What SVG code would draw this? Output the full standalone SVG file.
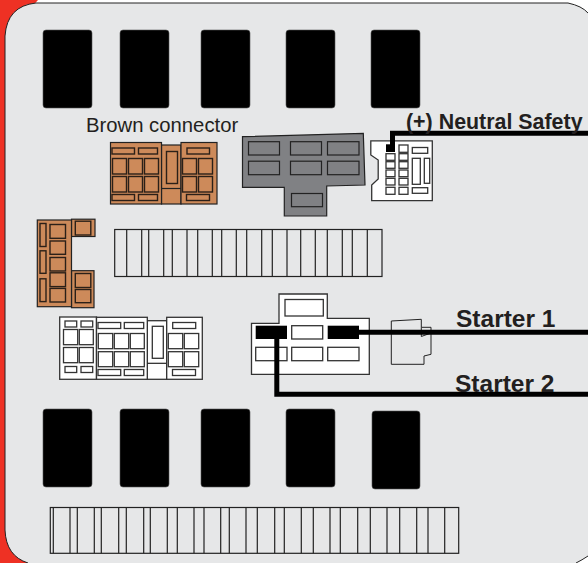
<svg xmlns="http://www.w3.org/2000/svg" width="588" height="563" viewBox="0 0 588 563">
<style>
.k{fill:#000;stroke:#555;stroke-width:.6}
.c{fill:none;stroke:#222;stroke-width:1.2}
.b{fill:#cd8a5a;stroke:#222;stroke-width:1.2}
.bi{fill:#cd8a5a;stroke:#2b2018;stroke-width:1.4}
.w{fill:#fff;stroke:#333;stroke-width:1.3}
.g{fill:#808184;stroke:#222;stroke-width:1.2}
.s{fill:none;stroke:#000;stroke-width:5}
.t{font-family:"Liberation Sans",Arial,sans-serif;fill:#231f20}
.l{font-size:24.500px;font-weight:bold}
</style>
<rect width="588" height="563" fill="#fff"/>
<path d="M0 0H38L5 36V530L28 563H0Z" fill="#ee3124"/>
<path id="panel" d="M568 3H36Q7 6 5 36V530Q6 556 28 563H576Q582 560 588 556V13Q582 6 568 3Z" fill="#e6e7e8"/>
<path d="M588 13Q582 6 568 3H36Q7 6 5 36V530Q6 556 28 563M576 563Q582 560 588 556" fill="none" stroke="#222" stroke-width="1"/>
<g id="blocks-top">
<rect class="k" x="43" y="30" width="49" height="78" rx="3"/>
<rect class="k" x="120" y="30" width="49" height="78" rx="3"/>
<rect class="k" x="201" y="30" width="49" height="78" rx="3"/>
<rect class="k" x="286" y="30" width="49" height="78" rx="3"/>
<rect class="k" x="371" y="30" width="49" height="78" rx="3"/>
</g>
<g id="blocks-bottom">
<rect class="k" x="43" y="409" width="49" height="78" rx="3"/>
<rect class="k" x="120" y="409" width="49" height="78" rx="3"/>
<rect class="k" x="201" y="409" width="49" height="78" rx="3"/>
<rect class="k" x="286" y="409" width="49" height="78" rx="3"/>
<rect class="k" x="372" y="411" width="48" height="78" rx="3"/>
</g>
<g id="brown-connector">
<rect class="b" x="161.500" y="145" width="19.500" height="59"/>
<rect class="b" x="110.500" y="142.500" width="51" height="61.500"/>
<rect class="b" x="181" y="142.500" width="36" height="61.500"/>
<path class="c" d="M161.500 188.500H181"/>
<rect class="bi" x="112" y="148" width="22.500" height="6"/><rect class="bi" x="138.500" y="148" width="19" height="6"/><rect class="bi" x="187" y="148" width="22.500" height="6"/>
<rect class="bi" x="112.500" y="158.500" width="14" height="15.500"/><rect class="bi" x="128.500" y="158.500" width="14" height="15.500"/><rect class="bi" x="144.500" y="158.500" width="14" height="15.500"/>
<rect class="bi" x="112.500" y="176.500" width="14" height="15.500"/><rect class="bi" x="128.500" y="176.500" width="14" height="15.500"/><rect class="bi" x="144.500" y="176.500" width="14" height="15.500"/>
<rect class="bi" x="112" y="194.500" width="22.500" height="6"/><rect class="bi" x="138.500" y="194.500" width="19" height="6"/><rect class="bi" x="186.500" y="194.500" width="23" height="6"/>
<rect class="bi" x="166.500" y="151.500" width="11" height="32"/>
<rect class="bi" x="182.500" y="158.500" width="14" height="15.500"/><rect class="bi" x="198.500" y="158.500" width="14" height="15.500"/>
<rect class="bi" x="182.500" y="176.500" width="14" height="15.500"/><rect class="bi" x="198.500" y="176.500" width="14" height="15.500"/>
</g>
<g id="gray-connector">
<path class="g" d="M242.500 136.700L363.300 133.300L365 185L326.700 186V216H284.300V187.300H242.500Z"/>
<rect class="g" x="248.500" y="141.700" width="31" height="13.300"/><rect class="g" x="290.500" y="141.700" width="31" height="13.300"/><rect class="g" x="327.500" y="141.700" width="31.500" height="13.300"/>
<rect class="g" x="248.500" y="161.200" width="31" height="13.500"/><rect class="g" x="290.500" y="161.200" width="31" height="13.500"/><rect class="g" x="327.500" y="161.200" width="31.500" height="13.500"/>
<rect class="g" x="291.500" y="193.500" width="31" height="13.200"/>
</g>
<g id="neutral-connector">
<path class="w" d="M370.800 140.800H432.300V200.700H371.700V185L378.200 179V160L370.800 155Z"/>
<rect class="w" x="399" y="145" width="9" height="7.300"/>
<rect class="w" x="386" y="153.700" width="9" height="6.600"/><rect class="w" x="399" y="153.700" width="9" height="6.600"/>
<rect class="w" x="386" y="161.700" width="9" height="6.600"/><rect class="w" x="399" y="161.700" width="9" height="6.600"/>
<rect class="w" x="386" y="170" width="9" height="6.700"/><rect class="w" x="399" y="170" width="9" height="6.700"/>
<rect class="w" x="386" y="178.300" width="9" height="6.700"/><rect class="w" x="399" y="178.300" width="9" height="6.700"/>
<rect class="w" x="386" y="187.300" width="9" height="7"/><rect class="w" x="399" y="187.300" width="9" height="7"/>
<rect class="w" x="412.300" y="147.500" width="15.400" height="5.800"/><rect class="w" x="412.300" y="158.300" width="8" height="26"/><rect class="w" x="424.300" y="158.300" width="5.400" height="25"/><rect class="w" x="412.300" y="187.700" width="15.400" height="5.600"/>
<rect x="386" y="144.300" width="9" height="7.700"/>
</g>
<g id="brown-left">
<rect class="b" x="71.500" y="219.200" width="23.500" height="17.300"/>
<rect class="b" x="71.500" y="270.700" width="22.500" height="37"/>
<rect class="b" x="37.300" y="220" width="34.200" height="86.700"/>
<rect class="bi" x="40" y="223.500" width="6" height="23"/><rect class="bi" x="40" y="250.800" width="6" height="22.500"/><rect class="bi" x="40" y="278.800" width="6" height="22.800"/>
<rect class="bi" x="50" y="224.500" width="15.500" height="13.800"/><rect class="bi" x="50" y="241" width="15.500" height="13.300"/><rect class="bi" x="50" y="257.500" width="15.500" height="13.500"/><rect class="bi" x="50" y="272.800" width="15.500" height="13.800"/><rect class="bi" x="50" y="288.400" width="15.500" height="13.600"/>
<rect class="bi" x="75.300" y="221.200" width="15.500" height="13.800"/><rect class="bi" x="75.300" y="273.500" width="15.500" height="14"/><rect class="bi" x="75.300" y="289.500" width="15.500" height="13.200"/>
</g>
<g id="strip-middle" class="c">
<rect x="114.700" y="229.500" width="267.300" height="47"/>
<path d="M126.700 229.500V276.500M141.700 229.500V276.500M148.700 229.500V276.500M163.700 229.500V276.500M172.300 229.500V276.500M187 229.500V276.500M197.700 229.500V276.500M212.300 229.500V276.500M221.700 229.500V276.500M236.300 229.500V276.500M246.700 229.500V276.500M261.700 229.500V276.500M272.300 229.500V276.500M287 229.500V276.500M300.700 229.500V276.500M315.300 229.500V276.500M327.300 229.500V276.500M342.300 229.500V276.500M352.300 229.500V276.500M367.300 229.500V276.500"/>
</g>
<g id="white-connector">
<rect class="w" x="59.700" y="317" width="36.800" height="62.300"/>
<rect class="w" x="147.300" y="320.700" width="19.400" height="58.600"/>
<rect class="w" x="96.500" y="317.300" width="50.800" height="62"/>
<path class="c" d="M147.300 363.300H166.700"/>
<rect class="w" x="166.700" y="317.300" width="35.600" height="62"/>
<rect class="w" x="65" y="321" width="11.700" height="6"/><rect class="w" x="81" y="321" width="11.700" height="6"/>
<rect class="w" x="63.500" y="329.500" width="14.200" height="15.200"/><rect class="w" x="79.300" y="329.500" width="14" height="15.200"/>
<rect class="w" x="63.500" y="347.500" width="14.200" height="15.200"/><rect class="w" x="79.300" y="347.500" width="14" height="15.200"/>
<rect class="w" x="65" y="366.500" width="11.700" height="6"/><rect class="w" x="81" y="366.500" width="11.700" height="6"/>
<rect class="w" x="98" y="322.500" width="22.700" height="6"/><rect class="w" x="124.300" y="322.500" width="19.400" height="6"/>
<rect class="w" x="98.300" y="333.500" width="14.400" height="15.200"/><rect class="w" x="114.300" y="333.500" width="14.400" height="15.200"/><rect class="w" x="130.300" y="333.500" width="14" height="15.200"/>
<rect class="w" x="98.300" y="351.700" width="14.400" height="15"/><rect class="w" x="114.300" y="351.700" width="14.400" height="15"/><rect class="w" x="130.300" y="351.700" width="14" height="15"/>
<rect class="w" x="98" y="369.500" width="22.700" height="6"/><rect class="w" x="124.300" y="369.500" width="19.400" height="6"/>
<rect class="w" x="152.300" y="326.300" width="11" height="32"/>
<rect class="w" x="168.300" y="333.500" width="14.400" height="15.200"/><rect class="w" x="184.300" y="333.500" width="14.400" height="15.200"/>
<rect class="w" x="168.300" y="351.700" width="14.400" height="15"/><rect class="w" x="184.300" y="351.700" width="14.400" height="15"/>
<rect class="w" x="172.700" y="322.500" width="23" height="6"/><rect class="w" x="172.500" y="369.500" width="23" height="6"/>
</g>
<g id="starter-connector">
<path class="w" d="M251.500 323.300V374.300H369.300V318.300H327.300V294H279V323.300Z"/>
<rect class="w" x="285" y="299.500" width="38.300" height="16.500"/>
<rect class="w" x="291.700" y="325.700" width="31" height="13.300"/>
<rect class="w" x="255.700" y="347.300" width="31.300" height="13.400"/>
<rect class="w" x="291.700" y="347.300" width="31" height="13.400"/>
<rect class="w" x="327.700" y="347.300" width="31.300" height="13.400"/>
<rect x="255.700" y="325.700" width="31.300" height="13.300"/>
<rect x="327.700" y="325.700" width="31.300" height="13.300"/>
</g>
<g id="small-connector">
<path d="M391.300 321L421.300 319.300V327.300H431V354.300L424 356V364.300H391.300ZM421.300 327.300V336.500L431 333" fill="none" stroke="#222" stroke-width="1"/>
</g>
<g id="strip-bottom" class="c">
<rect x="50.300" y="507.500" width="408.400" height="45.800"/>
<path d="M53.300 507.500V553.300M70 507.500V553.300M77.300 507.500V553.300M94.300 507.500V553.300M101.300 507.500V553.300M118.700 507.500V553.300M126.300 507.500V553.300M143.700 507.500V553.300M150.300 507.500V553.300M167.300 507.500V553.300M177.300 507.500V553.300M194 507.500V553.300M204 507.500V553.300M220.700 507.500V553.300M229.300 507.500V553.300M246 507.500V553.300M257.300 507.500V553.300M274.700 507.500V553.300M284.300 507.500V553.300M301.300 507.500V553.300M313.300 507.500V553.300M330 507.500V553.300M340.300 507.500V553.300M357.700 507.500V553.300M370.300 507.500V553.300M387 507.500V553.300M399.700 507.500V553.300M416.700 507.500V553.300M428 507.500V553.300M444.700 507.500V553.300"/>
</g>
<g id="connectors">
<path class="s" d="M392.500 146V133.300H588"/>
<path class="s" d="M358 332.300H588" stroke-width="6"/>
<path class="s" d="M276.800 338V394.200H588"/>
</g>
<g id="labels">
<text class="t" x="86" y="132" font-size="20.300">Brown connector</text>
<text class="t" x="406" y="129" font-size="21.400" font-weight="bold">(+) Neutral Safety</text>
<text class="t l" x="456" y="327">Starter 1</text>
<text class="t l" x="455" y="392">Starter 2</text>
</g>
</svg>
